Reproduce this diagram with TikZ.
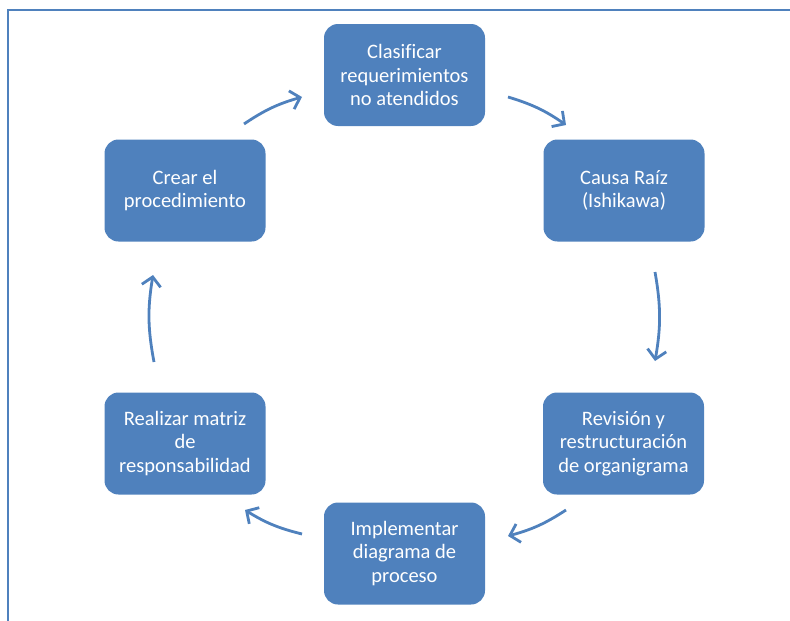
\documentclass[tikz,border=0pt]{standalone}
\usepackage{fontspec}
\setmainfont{Carlito}[Ligatures=CommonOff]
\usetikzlibrary{arrows.meta}
\definecolor{accent}{RGB}{79,129,189}
\tikzset{
  stepbox/.style={draw=none, fill=accent, rounded corners=14pt,
    minimum width=161pt, minimum height=102pt, text=white,
    align=center, font=\fontsize{20.5pt}{23.5pt}\selectfont, inner sep=0pt},
  cyclearrow/.style={draw=accent, line width=2.8pt,
    -{Straight Barb[length=9pt, width=19pt, line width=2.8pt]}},
  framerule/.style={draw=accent, line width=2pt}
}
\begin{document}
\begin{tikzpicture}[x=1pt, y=-1pt]
  \useasboundingbox (0,0) rectangle (790,621);
  % page frame
  \draw[framerule] (8,621) -- (8,10) -- (790,10);

  % process steps
  \node[stepbox] (top) at (404.5,75) {Clasificar\\requerimientos\\no atendidos};
  \node[stepbox] (rt)  at (624,190.5) {Causa Raíz\\(Ishikawa)};
  \node[stepbox] (rb)  at (623.5,443.5) {Revisión y\\restructuración\\de organigrama};
  \node[stepbox] (bot) at (404.5,553.5) {Implementar\\diagrama de\\proceso};
  \node[stepbox] (lb)  at (185,443.5) {Realizar matriz\\de\\responsabilidad};
  \node[stepbox] (lt)  at (185,190.5) {Crear el\\procedimiento};

  % arrow end points on the cycle
  \coordinate (a1s) at (244,124);  \coordinate (a1e) at (302,97);
  \coordinate (a2s) at (508,97);   \coordinate (a2e) at (566,125);
  \coordinate (a3s) at (655,272);  \coordinate (a3e) at (655,361);
  \coordinate (a4s) at (566,510);  \coordinate (a4e) at (508,536);
  \coordinate (a5s) at (302,534);  \coordinate (a5e) at (245,510);
  \coordinate (a6s) at (154,362);  \coordinate (a6e) at (153,275);

  % clockwise arrows
  \draw[cyclearrow] (a1s) to[bend left=9]  (a1e);
  \draw[cyclearrow] (a2s) to[bend left=9]  (a2e);
  \draw[cyclearrow] (a3s) to[bend left=10] (a3e);
  \draw[cyclearrow] (a4s) to[bend left=9]  (a4e);
  \draw[cyclearrow] (a5s) to[bend left=9]  (a5e);
  \draw[cyclearrow] (a6s) to[bend left=10] (a6e);
\end{tikzpicture}
\end{document}
